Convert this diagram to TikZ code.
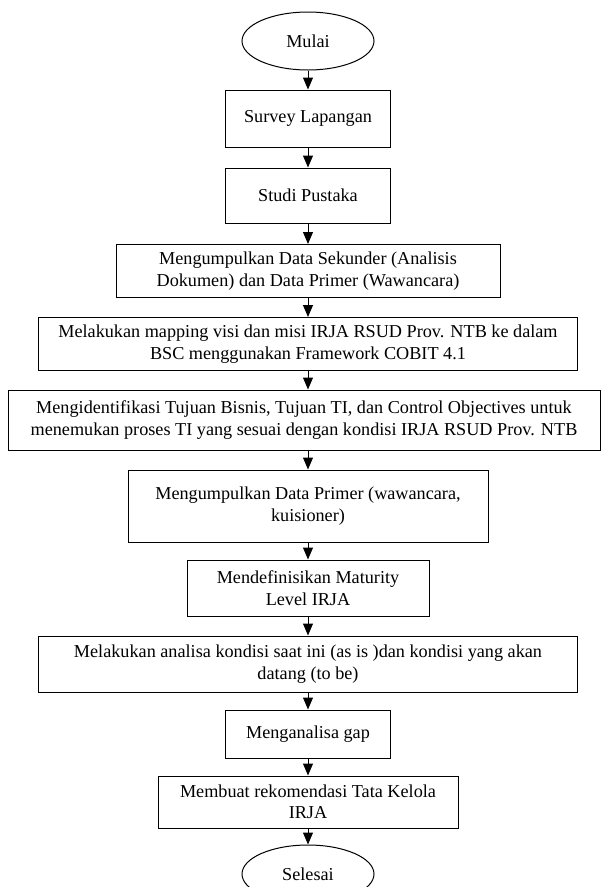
\documentclass[tikz,border=0pt]{standalone}
\usepackage{fontspec}
\setmainfont{Liberation Serif}
\usetikzlibrary{shapes.geometric,arrows.meta}
\begin{document}
\begin{tikzpicture}[x=1pt,y=-1pt,
  box/.style={draw,line width=1pt,rectangle,inner sep=0pt,align=center,
    font=\fontsize{18.2}{21.5}\selectfont},
  oval/.style={draw,line width=1pt,ellipse,inner sep=0pt,minimum width=132pt,minimum height=58pt,
    font=\fontsize{18.2}{21.5}\selectfont},
  arr/.style={line width=1pt,-{Triangle[length=12pt,width=10pt]}}]
\useasboundingbox (0,0) rectangle (602,887);
\node[oval] (mulai) at (308,41) {Mulai};
\node[box,minimum width=165pt,minimum height=57pt] (survey) at (308,118.5) {Survey Lapangan};
\node[box,minimum width=165pt,minimum height=55pt] (studi) at (308,195.5) {Studi Pustaka};
\node[box,minimum width=384pt,minimum height=53pt] (b3) at (308,271) {Mengumpulkan Data Sekunder (Analisis\\Dokumen) dan Data Primer (Wawancara)};
\node[box,minimum width=539pt,minimum height=53pt] (b4) at (308,344) {Melakukan mapping visi dan misi IRJA RSUD Prov. NTB ke dalam\\BSC menggunakan Framework COBIT 4.1};
\node[box,minimum width=592pt,minimum height=60pt] (b5) at (304,420) {Mengidentifikasi Tujuan Bisnis, Tujuan TI, dan Control Objectives untuk\\menemukan proses TI yang sesuai dengan kondisi IRJA RSUD Prov. NTB};
\node[box,minimum width=360pt,minimum height=72pt] (b6) at (308,506) {Mengumpulkan Data Primer (wawancara,\\kuisioner)};
\node[box,minimum width=242pt,minimum height=56pt] (b7) at (308,588) {Mendefinisikan Maturity\\Level IRJA};
\node[box,minimum width=539pt,minimum height=56pt] (b8) at (308,664) {Melakukan analisa kondisi saat ini (as is )dan kondisi yang akan\\datang (to be)};
\node[box,minimum width=165pt,minimum height=48pt] (b9) at (308,734) {Menganalisa gap};
\node[box,minimum width=300pt,minimum height=52pt] (b10) at (308,802) {Membuat rekomendasi Tata Kelola\\IRJA};
\node[oval] (selesai) at (308,874) {Selesai};
\draw[arr] (mulai) -- (survey);
\draw[arr] (survey) -- (studi);
\draw[arr] (studi) -- (b3);
\draw[arr] (b3) -- (b4);
\draw[arr] (b4.south) -- (b4.south |- b5.north);
\draw[arr] (b6.north |- b5.south) -- (b6.north);
\draw[arr] (b6) -- (b7);
\draw[arr] (b7) -- (b8);
\draw[arr] (b8) -- (b9);
\draw[arr] (b9) -- (b10);
\draw[arr] (b10) -- (selesai);
\end{tikzpicture}
\end{document}
